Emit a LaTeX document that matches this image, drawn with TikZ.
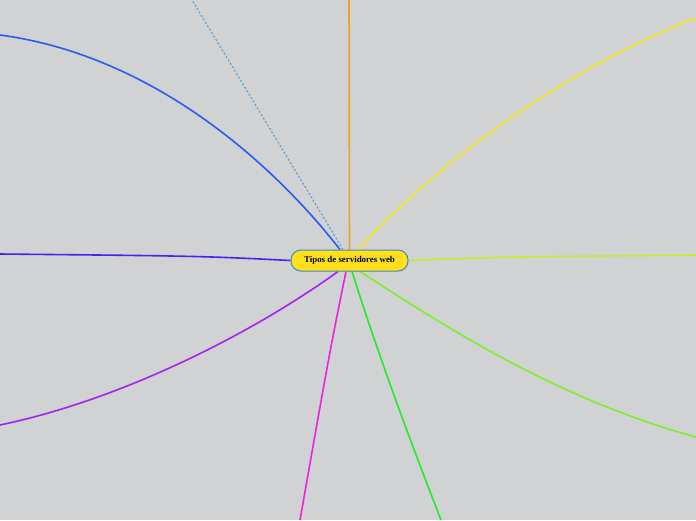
\documentclass[tikz,border=0pt]{standalone}
\usepackage{fontspec}
\setmainfont{Liberation Serif}
\usetikzlibrary{backgrounds}
\definecolor{bg}{HTML}{D0D2D3}
\definecolor{cblue}{HTML}{2A5CF0}
\definecolor{cdot}{HTML}{5A9CCB}
\definecolor{corange}{HTML}{F0A028}
\definecolor{cyellow}{HTML}{F5EA1E}
\definecolor{clime}{HTML}{C4EE2A}
\definecolor{cglime}{HTML}{7CF02A}
\definecolor{cgreen}{HTML}{22EE22}
\definecolor{cmag}{HTML}{EE22DD}
\definecolor{cpurple}{HTML}{A822EE}
\definecolor{cviolet}{HTML}{4A22EE}
\definecolor{nodefill}{HTML}{FFE01A}
\definecolor{nodeline}{HTML}{3A8AC0}
\tikzset{
  central/.style={draw=nodeline, line width=1pt, fill=nodefill, rounded corners=10pt,
    minimum width=117pt, minimum height=21pt, inner sep=0pt,
    font=\bfseries\fontsize{8.9}{10}\selectfont, text=black!85!blue},
  branch/.style={line width=1.6pt},
}
\begin{document}
\begin{tikzpicture}[x=1pt,y=-1pt]
\useasboundingbox (0,0) rectangle (696,520);
\node[central] (c) at (349.5,260.5) {Tipos de servidores web};
\coordinate (eBlue) at (0,35);
\coordinate (eDot) at (192,0);
\coordinate (eOrange) at (349,0);
\coordinate (eYellow) at (696,18);
\coordinate (eLime) at (696,255);
\coordinate (eGLime) at (696,437);
\coordinate (eGreen) at (441,520);
\coordinate (eMag) at (300,520);
\coordinate (ePurple) at (0,425);
\coordinate (eViolet) at (0,254);
\begin{scope}[on background layer]
\fill[bg] (0,0) rectangle (696,520);
\draw[branch, cblue] ([xshift=-9.5pt]c.north) .. controls (270,160) and (150,55) .. (eBlue);
\draw[line width=1.1pt, cdot, dash pattern=on 2pt off 2pt] ([xshift=-6.5pt]c.north) -- (eDot);
\draw[branch, corange] (c.north) -- (eOrange);
\draw[branch, cyellow] ([xshift=8.5pt]c.north) .. controls (430,170) and (560,70) .. (eYellow);
\draw[branch, clime] (c.east) .. controls (500,257) .. (eLime);
\draw[branch, cglime] ([xshift=10.5pt]c.south) .. controls (450,330) and (560,400) .. (eGLime);
\draw[branch, cgreen] ([xshift=2.5pt]c.south) .. controls (380,360) and (410,440) .. (eGreen);
\draw[branch, cmag] ([xshift=-3.5pt]c.south) .. controls (330,350) .. (eMag);
\draw[branch, cpurple] ([xshift=-11.5pt]c.south) .. controls (250,335) and (120,400) .. (ePurple);
\draw[branch, cviolet] (c.west) .. controls (200,256) .. (eViolet);
\end{scope}
\end{tikzpicture}
\end{document}
